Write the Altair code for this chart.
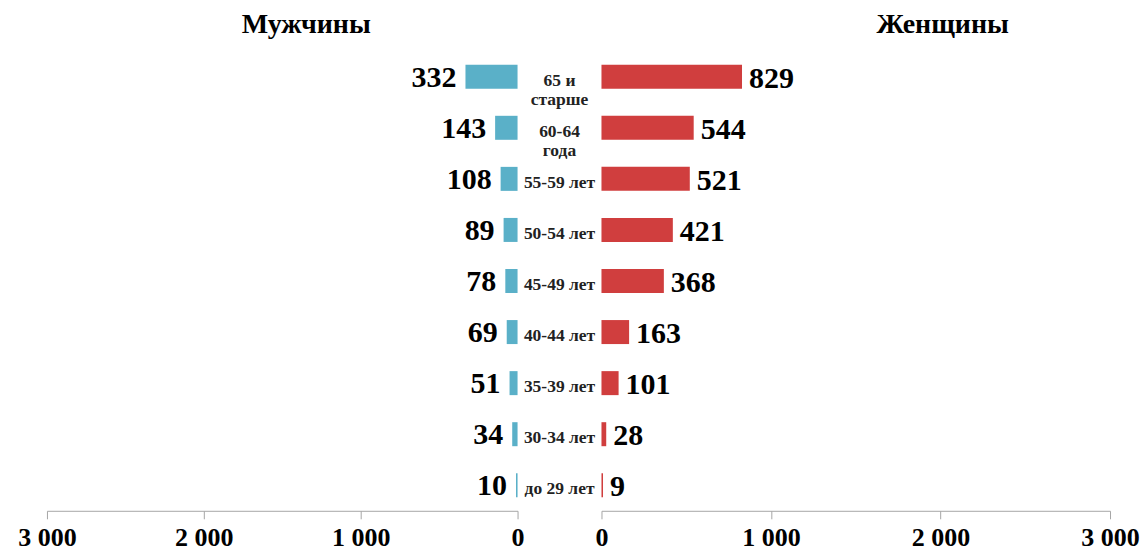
import altair as alt
import pandas as pd

ages = ["65 и старше", "60-64 года", "55-59 лет", "50-54 лет", "45-49 лет",
        "40-44 лет", "35-39 лет", "30-34 лет", "до 29 лет"]
age_labels = ["65 и\nстарше", "60-64\nгода", "55-59 лет", "50-54 лет", "45-49 лет",
              "40-44 лет", "35-39 лет", "30-34 лет", "до 29 лет"]
men = [332, 143, 108, 89, 78, 69, 51, 34, 10]
women = [829, 544, 521, 421, 368, 163, 101, 28, 9]
tick_values = [0, 1000, 2000, 3000]

df = pd.DataFrame({"age": ages, "label": age_labels, "men": men, "women": women})

FONT = "Liberation Serif"
H = 460
BLUE = "#5AB0C8"
RED = "#D03E3E"

yenc = alt.Y("age:N", sort=ages, axis=None,
             scale=alt.Scale(paddingInner=0.53, paddingOuter=0.265))

def xaxis():
    return alt.Axis(values=tick_values, grid=False, title=None, labelFlush=False,
                    domainColor="#a6a6a6", tickColor="#a6a6a6", tickSize=8,
                    labelFont=FONT, labelFontSize=26, labelFontWeight="bold",
                    labelColor="black", labelPadding=6,
                    labelExpr="replace(format(datum.value, ','), ',', ' ')")

def title(text, dx):
    return alt.TitleParams(text=text, font=FONT, fontSize=28, fontWeight="bold",
                           color="black", anchor="middle", dx=dx, offset=12)

base = alt.Chart(df)

left_x = alt.X("men:Q", scale=alt.Scale(domain=[0, 3000], reverse=True, nice=False), axis=xaxis())
left = alt.layer(
    base.mark_bar(color=BLUE).encode(x=left_x, y=yenc),
    base.mark_text(align="right", dx=-9, dy=1, font=FONT, fontSize=30, fontWeight="bold",
                   color="black").encode(x=alt.X("men:Q"), y=yenc, text="men:Q"),
).properties(width=471, height=H, title=title("Мужчины", 24))

middle = base.mark_text(font=FONT, fontSize=17.5, fontWeight="bold", color="#222222",
                        lineBreak="\n", lineHeight=19, dy=4).encode(
    y=yenc, text="label:N"
).properties(width=84, height=H, title=title(" ", 0))

right_x = alt.X("women:Q", scale=alt.Scale(domain=[0, 3000], nice=False), axis=xaxis())
right = alt.layer(
    base.mark_bar(color=RED).encode(x=right_x, y=yenc),
    base.mark_text(align="left", dx=7, dy=2, font=FONT, fontSize=30, fontWeight="bold",
                   color="black").encode(x=alt.X("women:Q"), y=yenc, text="women:Q"),
).properties(width=509, height=H, title=title("Женщины", 87))

chart = alt.hconcat(left, middle, right, spacing=0, bounds="flush").properties(
    padding={"left": 9, "top": 3, "right": 0, "bottom": 0}
).configure_view(stroke=None)

chart.save("out.html", embed_options={"renderer": "svg", "actions": False})
